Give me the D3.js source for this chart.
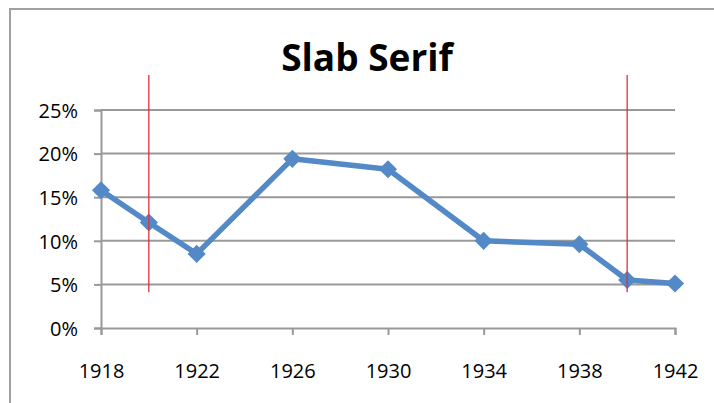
<!doctype html>
<html>
<head>
<meta charset="utf-8">
<title>Slab Serif</title>
<script src="https://d3js.org/d3.v7.min.js"></script>
<style>
  body { margin: 0; background: #fff; }
  text { font-family: "Open Sans", "Noto Sans", sans-serif; fill: #000; }
</style>
</head>
<body>
<script>
// data
var years  = [1918, 1920, 1922, 1926, 1930, 1934, 1938, 1940, 1942];
var shares = [0.158, 0.121, 0.085, 0.194, 0.182, 0.100, 0.096, 0.055, 0.051];
var xTicks = [1918, 1922, 1926, 1930, 1934, 1938, 1942];
var yTicks = [0, 0.05, 0.10, 0.15, 0.20, 0.25];
// the two red marker lines
var markYears = [1920, 1940];
var markRange = [0.041, 0.29];

var width = 714, height = 403;

var svg = d3.select("body").append("svg")
    .attr("width", width)
    .attr("height", height);

// chart frame (only top and left edges are in view)
svg.append("path")
    .attr("d", "M10,403 V9 H714")
    .attr("fill", "none")
    .attr("stroke", "#a0a0a0")
    .attr("stroke-width", 2);

var x = d3.scaleLinear().domain([1918, 1942]).range([101, 675]);
var y = d3.scaleLinear().domain([0, 0.25]).range([328, 110]);

// title
svg.append("text")
    .attr("x", 367)
    .attr("y", 71)
    .attr("text-anchor", "middle")
    .style("font-size", "37px")
    .style("font-weight", "bold")
    .text("Slab Serif");

// gridlines
svg.append("g").selectAll("line")
    .data(yTicks.slice(1))
    .enter().append("line")
    .attr("x1", x(1918)).attr("x2", x(1942))
    .attr("y1", d => y(d)).attr("y2", d => y(d))
    .attr("stroke", "#999")
    .attr("stroke-width", 2);

// y axis
var yAxis = svg.append("g")
    .attr("transform", "translate(" + x(1918) + ",0)")
    .call(d3.axisLeft(y).tickValues(yTicks).tickFormat(d3.format(".0%")).tickSize(7).tickPadding(16));

// x axis
var xAxis = svg.append("g")
    .attr("transform", "translate(0," + y(0) + ")")
    .call(d3.axisBottom(x).tickValues(xTicks).tickFormat(d3.format("d")).tickSize(7).tickPadding(29));

[yAxis, xAxis].forEach(function(a){
  a.attr("font-size", null).attr("font-family", null);
  a.selectAll(".domain").attr("stroke", "#999").attr("stroke-width", 2);
  a.selectAll(".tick line").attr("stroke", "#999").attr("stroke-width", 2);
  a.selectAll("text").style("font-size", "20px").attr("fill", "#000");
});
yAxis.selectAll("text").attr("dy", "0.36em");
xAxis.selectAll("text").attr("dy", "0.71em");

// series line
var line = d3.line()
    .x((d, i) => x(years[i]))
    .y(d => y(d));

svg.append("path")
    .datum(shares)
    .attr("d", line)
    .attr("fill", "none")
    .attr("stroke", "#5289c6")
    .attr("stroke-width", 5.5)
    .attr("stroke-linejoin", "round");

// diamond markers
svg.append("g").selectAll("path")
    .data(shares)
    .enter().append("path")
    .attr("transform", (d, i) => "translate(" + x(years[i]) + "," + y(d) + ")")
    .attr("d", d3.symbol().type(d3.symbolDiamond2).size(210))
    .attr("fill", "#5289c6");

// red marker lines
svg.append("g").selectAll("line")
    .data(markYears)
    .enter().append("line")
    .attr("x1", d => x(d)).attr("x2", d => x(d))
    .attr("y1", y(markRange[0])).attr("y2", y(markRange[1]))
    .attr("stroke", "#e0303a")
    .attr("stroke-width", 1.3);
</script>
</body>
</html>
